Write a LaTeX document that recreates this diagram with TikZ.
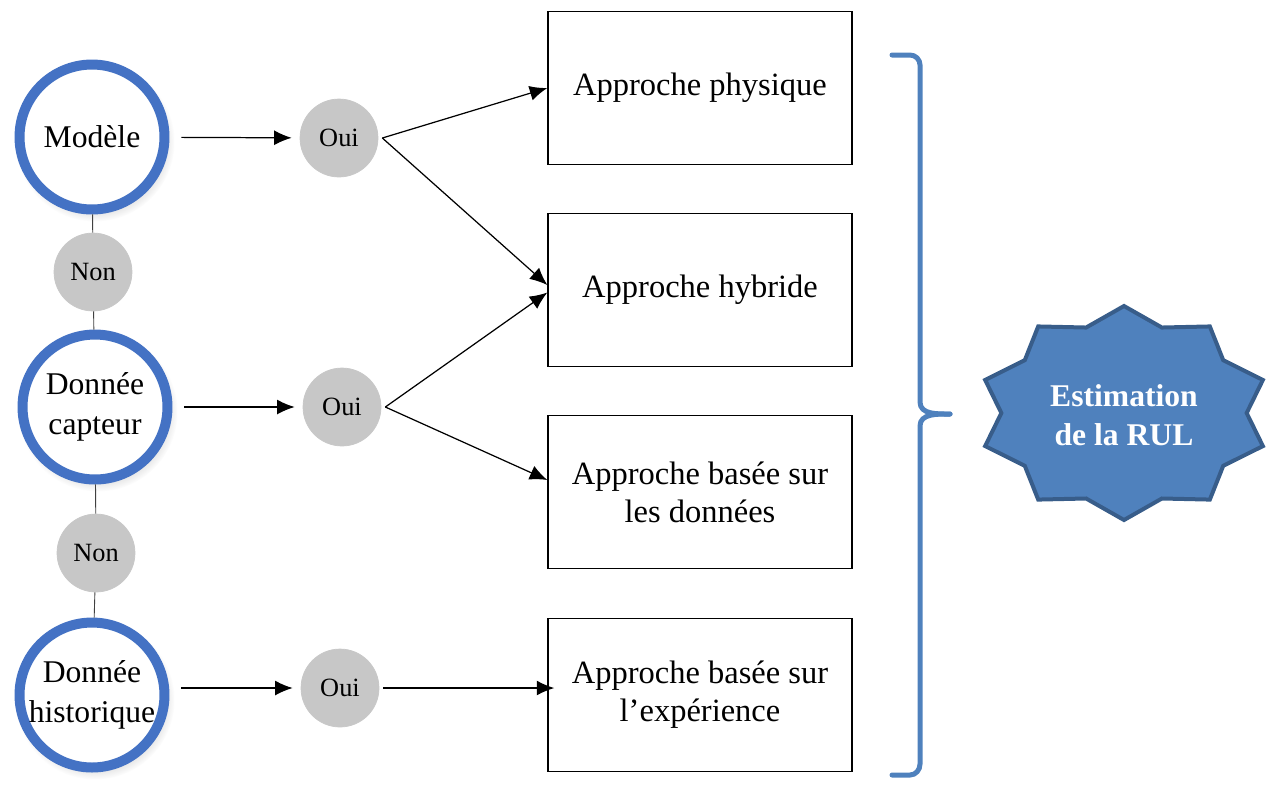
\documentclass[tikz,border=0pt]{standalone}
\usepackage{fontspec}
\setmainfont{Liberation Serif}
\usetikzlibrary{arrows.meta,shadows}

\definecolor{ringblue}{HTML}{4472C4}
\definecolor{officeblue}{HTML}{4F81BD}
\definecolor{darkblue}{HTML}{385D8A}

\begin{document}
\begin{tikzpicture}[x=0.02cm, y=-0.02cm,
        source/.style={circle, draw=ringblue, line width=0.2cm, fill=white, minimum size=2.9cm, inner sep=0pt,
            align=center, font=\fontsize{18}{22.5}\selectfont,
            circular drop shadow={shadow xshift=1.5pt, shadow yshift=-2.5pt, opacity=0.25}},
        answer/.style={circle, draw=black!22, fill=black!22, minimum size=1.56cm, inner sep=0pt,
            font=\fontsize{15}{18}\selectfont},
        approach/.style={draw, line width=0.8pt, minimum width=6.08cm, minimum height=3.06cm,
            align=center, font=\fontsize{18.5}{21.5}\selectfont},
        flow/.style={-{Latex[length=10pt,width=8.5pt]}, line width=0.7pt},
        link/.style={line width=0.5pt, black!75},
        brace/.style={officeblue, line width=0.1cm, line cap=round}]
    \useasboundingbox (0,0) rectangle (1266,796);

    % questions on the left
    \node[source] (modele) at (92,137) {Modèle};
    \node[source] (capteur) at (95,407) {Donnée\\capteur};
    \node[source] (histo) at (92,695) {Donnée\\historique};
    \node[answer] (non1) at (93,272) {Non};
    \node[answer] (non2) at (96,553) {Non};
    \draw[link] (modele) -- (non1) -- (capteur) -- (non2) -- (histo);

    \node[answer] (oui1) at (339,138) {Oui};
    \node[answer] (oui2) at (342,407) {Oui};
    \node[answer] (oui3) at (340,688) {Oui};
    \draw[flow, shorten <=0.24cm, shorten >=0.16cm] (modele) -- (oui1);
    \draw[flow, shorten <=0.24cm, shorten >=0.16cm] (capteur) -- (oui2);
    \draw[flow, shorten <=0.24cm, shorten >=0.16cm] (histo.east |- oui3) -- (oui3);

    % approches
    \node[approach] (phys) at (700,88) {Approche physique};
    \node[approach] (hyb) at (700,290) {Approche hybride};
    \node[approach] (data) at (700,492) {Approche basée sur\\les données};
    \node[approach] (exp) at (700,695) {Approche basée sur\\l’expérience};

    \coordinate (o1) at ([xshift=0.08cm]oui1.east);
    \coordinate (o2) at ([xshift=0.08cm]oui2.east);
    \coordinate (o3) at ([xshift=0.08cm]oui3.east);
    \draw[flow] (o1) -- (phys.west);
    \draw[flow] (o1) -- ([yshift=0.1cm]hyb.west);
    \draw[flow] (o2) -- ([yshift=-0.05cm]hyb.west);
    \draw[flow] (o2) -- ([yshift=0.24cm]data.west);
    \draw[flow, shorten >=-0.14cm] (o3) -- (exp.west |- o3);

    % accolade + RUL
    \draw[brace] (892,55) -- (910,55) to[out=0,in=90] (920,65) -- (920,402) to[out=-90,in=180] (950,414);
    \draw[brace] (950,414) to[out=180,in=90] (920,426) -- (920,764) to[out=-90,in=0] (910,775) -- (892,775);

    \draw[fill=officeblue, draw=darkblue, line width=0.08cm, line join=miter]
        plot[samples at={0,...,19}, variable=\k]
        ({1124+146*ifthenelse(mod(\k,2)==0,1,0.84)*cos(90+18*\k)},
         {413-107*ifthenelse(mod(\k,2)==0,1,0.84)*sin(90+18*\k)}) -- cycle;
    \node[text=white, align=center, font=\bfseries\fontsize{18}{22}\selectfont] (rul) at (1124,415) {Estimation\\de la RUL};
\end{tikzpicture}
\end{document}
